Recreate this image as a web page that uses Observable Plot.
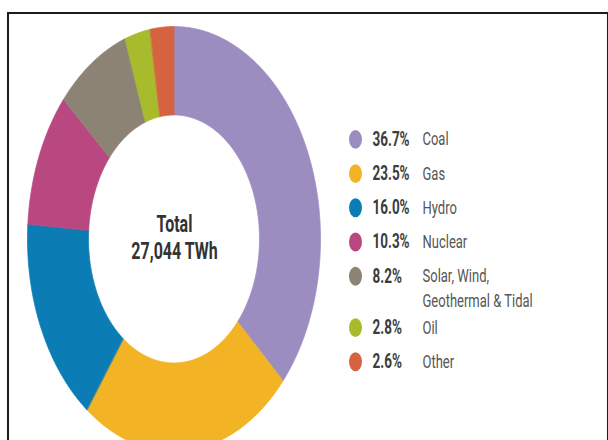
<!DOCTYPE html>
<html><head><meta charset="utf-8">
<script src="https://cdn.jsdelivr.net/npm/d3@7"></script>
<script src="https://cdn.jsdelivr.net/npm/@observablehq/plot@0.6"></script>
<style>
html,body{margin:0;padding:0;background:#fff;width:608px;height:440px;overflow:hidden;}
#chart{position:absolute;left:0;top:0;transform-origin:0 0;transform:scaleY(1.45);}
#frame{position:absolute;left:7px;top:12px;width:598px;height:470px;border:2px solid #1b1b1b;pointer-events:none;}
</style></head><body>
<div id="chart"></div><div id="frame"></div>
<script>
// ---- data ----
const sources = ["Coal", "Gas", "Hydro", "Nuclear", "Solar, Wind,\nGeothermal & Tidal", "Oil", "Other"];
const shares = [36.7, 23.5, 16.0, 10.3, 8.2, 2.8, 2.6];
const shareLabels = ["36.7%", "23.5%", "16.0%", "10.3%", "8.2%", "2.8%", "2.6%"];
const colors = ["#9c8dc1", "#f2b325", "#0b7db4", "#b8487f", "#8c8375", "#a8bb2c", "#d5633f"];
const totalLabel = "Total";
const totalValue = "27,044 TWh";

// ---- layout (unstretched px; whole SVG is stretched vertically by CSS) ----
const W = 608, H = 304;
const cx = 174, cy = 164.8, R = 146.5, r = 85.5;
const ux = px => (px - cx) / R;
const uy = py => (cy - py) / R;

// ring geometry from shares
const total = d3.sum(shares);
const k0 = r / R;
let acc = 0;
const ring = [];
sources.forEach((s, i) => {
  const a0 = acc / total * 2 * Math.PI; acc += shares[i];
  const a1 = acc / total * 2 * Math.PI;
  const n = Math.max(2, Math.ceil((a1 - a0) / 0.01));
  for (let k = 0; k <= n; k++) {
    const a = a0 + (a1 - a0) * k / n;
    ring.push({source: s, ox: Math.sin(a), oy: Math.cos(a), ix: k0 * Math.sin(a), iy: k0 * Math.cos(a)});
  }
});

// legend rows
const rowStart = 95.6, rowStep = 23.6, lineStep = 17.2;
let off = 0;
const legendRows = [];
const nameLines = [];
sources.forEach((s, i) => {
  const py = rowStart + off * rowStep;
  legendRows.push({source: s, pct: shareLabels[i], y: uy(py)});
  const lines = s.split("\n");
  lines.forEach((t, j) => nameLines.push({text: t, y: uy(py + j * lineStep)}));
  off += 1 + 0.5 * (lines.length - 1);
});

const chart = Plot.plot({
  width: W, height: H,
  margin: 0,
  style: {fontFamily: "Roboto, sans-serif", background: "transparent", overflow: "visible"},
  x: {domain: [-1, 1], range: [cx - R, cx + R], axis: null},
  y: {domain: [-1, 1], range: [cy + R, cy - R], axis: null},
  color: {domain: sources, range: colors},
  marks: [
    Plot.area(ring, {x1: "ox", y1: "oy", x2: "ix", y2: "iy", z: "source", fill: "source", stroke: "source", strokeWidth: 0.6, curve: "linear"}),
    Plot.text([totalLabel + "\n" + totalValue], {x: 0, y: uy(163.1), text: d => d, fontSize: 16, fontWeight: "bold", fill: "#333", lineHeight: 1.16, lineAnchor: "middle"}),
    Plot.dot(legendRows, {x: ux(355), y: "y", r: 6.5, fill: "source", stroke: null}),
    Plot.text(legendRows, {x: ux(372), y: "y", text: "pct", textAnchor: "start", lineAnchor: "middle", fontWeight: "bold", fontSize: 13.5, fill: "#3c3c3c"}),
    Plot.text(nameLines, {x: ux(422), y: "y", text: "text", textAnchor: "start", lineAnchor: "middle", fontSize: 13, fill: "#555"})
  ]
});
document.getElementById("chart").appendChild(chart);
</script>
</body></html>
